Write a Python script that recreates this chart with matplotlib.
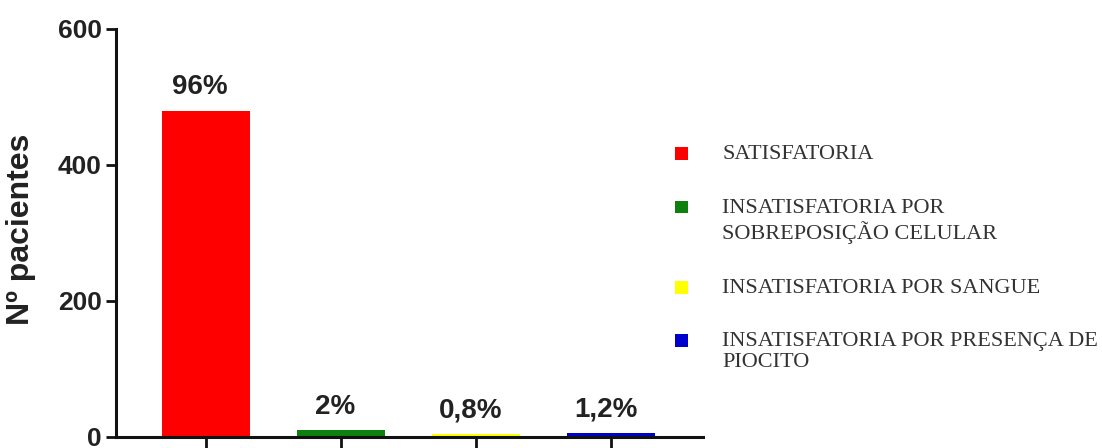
import numpy as np
import matplotlib.pyplot as plt
from matplotlib.patches import Rectangle

# dados
categorias = ['SATISFATORIA',
              'INSATISFATORIA POR\nSOBREPOSIÇÃO CELULAR',
              'INSATISFATORIA POR SANGUE',
              'INSATISFATORIA POR PRESENÇA DE\nPIOCITO']
pacientes = [480, 10, 4, 6]
rotulos = ['96%', '2%', '0,8%', '1,2%']
cores = ['#ff0000', '#0d800d', '#ffff00', '#0000cc']

plt.rcParams['font.family'] = 'Liberation Sans'

fig = plt.figure(figsize=(11.02, 4.48), dpi=100)
ax = fig.add_axes([0.105, 0.0246, 0.533, 0.9107])

x = np.arange(len(pacientes))
barras = ax.bar(x, pacientes, width=0.65, color=cores)

# porcentagem em cima de cada barra
for xi, yi, txt in zip(x, pacientes, rotulos):
    ax.annotate(txt, (xi, yi), xytext=(-4, 12), textcoords='offset points',
                ha='center', va='baseline', fontsize=20, fontweight='bold',
                color='#222222')

ax.set_xlim(-0.667, 3.68)
ax.set_ylim(0, 600)
ax.set_yticks([0, 200, 400, 600])
ax.set_xticks(x)
ax.set_xticklabels([])
for s in ['top', 'right']:
    ax.spines[s].set_visible(False)
for s in ['left', 'bottom']:
    ax.spines[s].set_linewidth(2.2)
    ax.spines[s].set_color('#111111')
ax.tick_params(axis='y', length=7, width=2, labelsize=19, pad=3,
               color='#111111', labelcolor='#222222')
ax.tick_params(axis='x', length=9, width=2, color='#111111')
for lb in ax.get_yticklabels():
    lb.set_fontweight('bold')

ax.set_ylabel('Nº pacientes', fontsize=23, fontweight='bold', color='#222222')
ax.yaxis.set_label_coords(-0.135, 0.51)

# legenda
ys = [153, 207, 287, 340]
for cor, nome, yy in zip(cores, categorias, ys):
    fy = 1 - yy / 448
    fig.add_artist(Rectangle((675 / 1102, fy - 6.5 / 448), 13 / 1102, 13 / 448,
                             transform=fig.transFigure, color=cor, lw=0))
    fig.text(722 / 1102, fy + 8 / 448, nome, family='Liberation Serif',
             fontsize=16, va='top', ha='left', color='#333333',
             linespacing=1.15)

fig.savefig('out.png', dpi=100)
